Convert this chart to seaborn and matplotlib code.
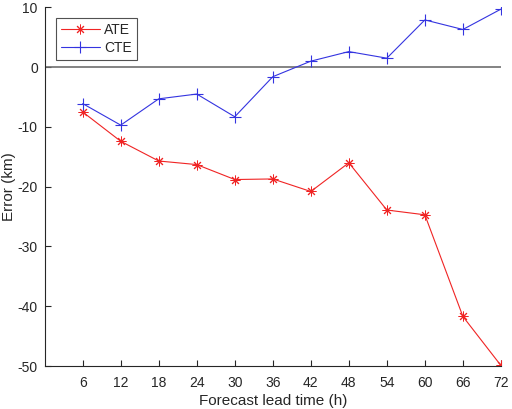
import matplotlib

matplotlib.use("Agg")
import matplotlib.pyplot as plt
import pandas as pd
import seaborn as sns

lead_time = [6, 12, 18, 24, 30, 36, 42, 48, 54, 60, 66, 72]
ate = [-7.5, -12.4, -15.7, -16.3, -18.8, -18.7, -20.8, -16.0, -23.9, -24.7, -41.7, -49.9]
cte = [-6.1, -9.7, -5.3, -4.5, -8.3, -1.6, 1.0, 2.6, 1.5, 7.9, 6.3, 9.7]

df = pd.DataFrame({"lead": lead_time, "ATE": ate, "CTE": cte})

sns.set_theme(style="ticks")
plt.rcParams["font.family"] = ["Liberation Sans", "DejaVu Sans"]
plt.rcParams["axes.unicode_minus"] = False
ink = "#262626"

fig = plt.figure(figsize=(5.12, 4.09), dpi=100)
ax = fig.add_axes([0.0873, 0.105, 0.891, 0.877])

ax.axhline(0, color="#6e6e6e", lw=1.2, zorder=1)
sns.lineplot(data=df, x="lead", y="ATE", ax=ax, color="#f02424", lw=0.8,
             marker=(8, 2, 0), markersize=7, markeredgewidth=0.7,
             markeredgecolor="#f02424", label="ATE")
sns.lineplot(data=df, x="lead", y="CTE", ax=ax, color="#3434e0", lw=0.8,
             marker="+", markersize=8, markeredgewidth=0.8,
             markeredgecolor="#3434e0", label="CTE")

ax.set_xlim(0, 72)
ax.set_ylim(-50, 10)
ax.set_xticks(lead_time)
ax.set_yticks(range(-50, 11, 10))
ax.tick_params(direction="in", length=4, width=0.8, colors=ink, labelsize=10)
ax.tick_params(axis="x", pad=7)
ax.tick_params(axis="y", pad=5)
for s in ["top", "right"]:
    ax.spines[s].set_visible(False)
for s in ["left", "bottom"]:
    ax.spines[s].set_color(ink)
    ax.spines[s].set_linewidth(0.8)

ax.set_xlabel("Forecast lead time (h)", fontsize=11, color=ink)
ax.set_ylabel("Error (km)", fontsize=11, color=ink)
ax.xaxis.set_label_coords(0.5, -0.078)
ax.yaxis.set_label_coords(-0.063, 0.5)

leg = ax.legend(loc="upper left", bbox_to_anchor=(0.025, 0.971), borderaxespad=0,
                fontsize=10, frameon=True, fancybox=False, handlelength=2.8,
                borderpad=0.35, labelspacing=0.3, handletextpad=0.3)
leg.get_frame().set_edgecolor(ink)
leg.get_frame().set_linewidth(0.8)
for t in leg.get_texts():
    t.set_color(ink)

fig.savefig("out.png", dpi=100)
